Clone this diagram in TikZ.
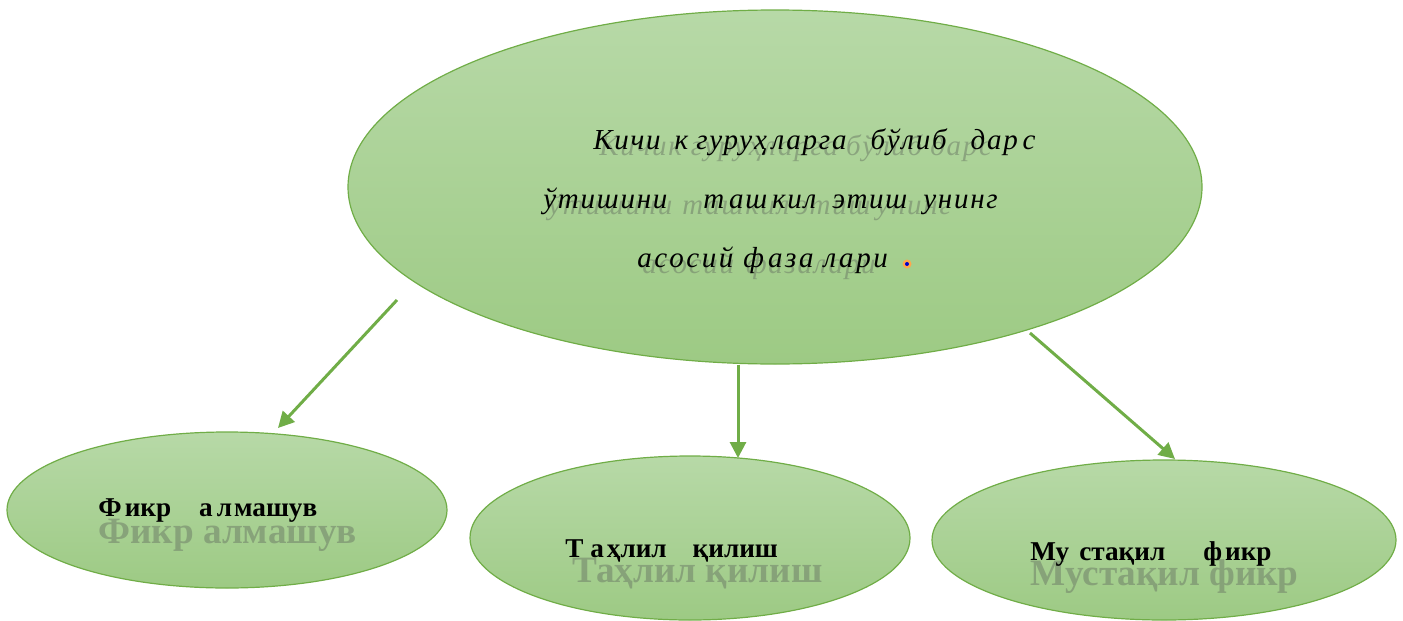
\documentclass[tikz,border=0pt]{standalone}
\usepackage{fontspec}
\setmainfont{Liberation Serif}
\usetikzlibrary{arrows.meta,shapes.geometric}
\definecolor{edgeg}{HTML}{70AD47}
\definecolor{topg}{HTML}{B7D9A7}
\definecolor{botg}{HTML}{9DCA84}
\definecolor{shad}{HTML}{6F7F68}
\begin{document}
\begin{tikzpicture}[x=0.5pt,y=-0.5pt,
  bubble/.style={ellipse, draw=edgeg, line width=0.6pt, top color=topg, bottom color=botg, inner sep=0pt},
  arr/.style={draw=edgeg, line width=1.5pt, -{Triangle[length=8pt,width=8pt]}},
  maintxt/.style={anchor=base west, inner sep=0pt, font=\fontsize{14.5}{17}\selectfont\itshape\addfontfeature{LetterSpace=6}},
  mainshad/.style={maintxt, text=shad, opacity=0.55},
  subtxt/.style={anchor=base west, inner sep=0pt, font=\fontsize{13.6}{16}\selectfont\bfseries},
  subshad/.style={anchor=base west, inner sep=0pt, text=shad, opacity=0.55, font=\fontsize{18.6}{22}\selectfont\bfseries}
]
\useasboundingbox (0,0) rectangle (1403,621);
% bubbles
\node[bubble, minimum width=427pt, minimum height=177pt] (e0) at (775,187) {};
\node[bubble, minimum width=220pt, minimum height=78pt] (e1) at (227,510) {};
\node[bubble, minimum width=220pt, minimum height=82pt] (e2) at (690,538) {};
\node[bubble, minimum width=232pt, minimum height=80pt] (e3) at (1164,540) {};
% main text shadows
\node[mainshad] (s1) at (599,155) {Кичик гуруҳларга\hspace{4pt}бўлиб\hspace{4pt}дарс};
\node[mainshad] (s2) at (548,214) {ўтишини\hspace{5pt}ташкил\hspace{3pt}этиш\hspace{3pt}унинг};
\node[mainshad] (s3) at (642,273) {асосий\hspace{6pt}фазалари};
% main text
\node[maintxt] (t1) at (593,149) {Кичи\hspace{7pt}к\hspace{4pt}гуруҳ\,ларга\hspace{12pt}бўлиб\hspace{12pt}дар\,с};
\node[maintxt] (t2) at (543,208) {ўтишини\hspace{18pt}т\,аш\,кил\hspace{8pt}этиш\hspace{8pt}унинг};
\node[maintxt, font=\fontsize{14.5}{17}\selectfont\itshape\addfontfeature{LetterSpace=9}] (t3) at (637,267) {асосий\hspace{5pt}ф\kern2pt{}аза\hspace{5pt}лари};
\fill[orange!70] (907,264) circle (4.5);
\fill[blue!80!black] (907,264) circle (2);
% sub text shadows
\node[subshad] (u1) at (98,543) {Фикр алмашув};
\node[subshad] (u2) at (572,582) {Таҳлил қилиш};
\node[subshad] (u3) at (1030,585) {Мустақил фикр};
% sub text
\node[subtxt] (v1) at (98,516) {Ф\kern1.5pt{}икр\hspace{14pt}а\kern2pt{}л\kern1pt{}машув};
\node[subtxt] (v2) at (565,557) {Т а\kern1.5pt{}ҳлил\hspace{13pt}қилиш};
\node[subtxt] (v3) at (1030,560) {Му\hspace{5pt}стақил\hspace{19pt}ф\kern1.5pt{}икр};
% arrows
\coordinate (a1s) at (397,300);
\coordinate (a1e) at (278,428);
\coordinate (a2e) at (738,458);
\coordinate (a3s) at (1030,333);
\coordinate (a3e) at (1175,459);
\draw[arr] (a1s) -- (a1e);
\draw[arr] (e0.south -| a2e) -- (a2e);
\draw[arr] (a3s) -- (a3e);
\end{tikzpicture}
\end{document}
